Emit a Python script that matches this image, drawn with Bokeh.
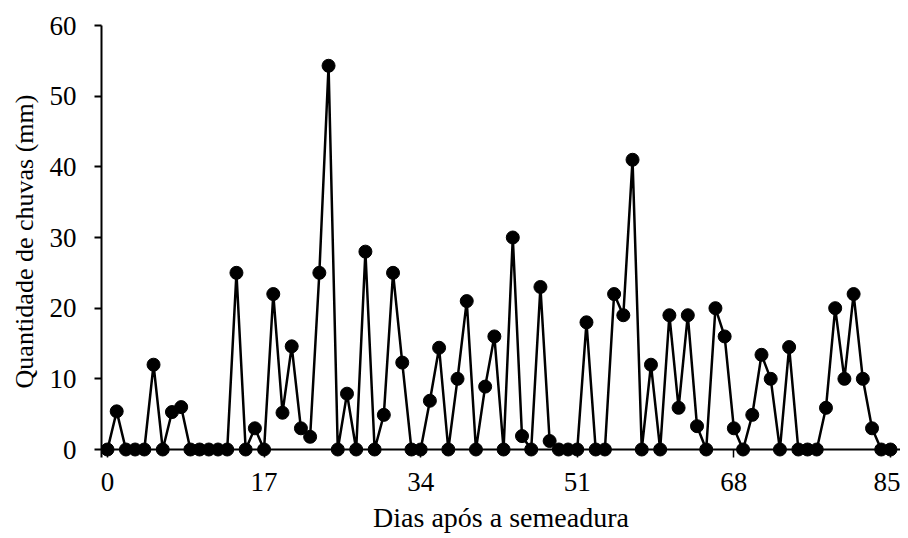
from bokeh.plotting import figure
from bokeh.models import Range1d, FixedTicker, Span
from bokeh.embed import file_html
from bokeh.resources import INLINE

dias = list(range(0, 86))
chuva = [0, 5.4, 0, 0, 0, 12, 0, 5.3, 6, 0,
         0, 0, 0, 0, 25, 0, 3, 0, 22, 5.2,
         14.6, 3, 1.8, 25, 54.3, 0, 7.9, 0, 28, 0,
         4.9, 25, 12.3, 0, 0, 6.9, 14.4, 0, 10, 21,
         0, 8.9, 16, 0, 30, 1.9, 0, 23, 1.2, 0,
         0, 0, 18, 0, 0, 22, 19, 41, 0, 12,
         0, 19, 5.9, 19, 3.3, 0, 20, 16, 3, 0,
         4.9, 13.4, 10, 0, 14.5, 0, 0, 0, 5.9, 20,
         10, 22, 10, 3, 0, 0]
x_ticks = [0, 17, 34, 51, 68, 85]
y_ticks = [0, 10, 20, 30, 40, 50, 60]

FONT = "Liberation Serif"

p = figure(width=900, height=538, output_backend="svg", toolbar_location=None,
           x_range=Range1d(-0.65, 86.09), y_range=Range1d(-1.132, 60),
           min_border_left=101, min_border_right=0, min_border_top=25, min_border_bottom=81)
p.outline_line_color = None
p.xgrid.visible = False
p.ygrid.visible = False
p.background_fill_color = "white"
p.border_fill_color = "white"

p.line(dias, chuva, line_color="black", line_width=2.5)
p.scatter(dias, chuva, size=13, fill_color="black", line_color="black")

p.add_layout(Span(location=0, dimension="width", line_color="black", line_width=2))

xa = p.xaxis[0]
xa.ticker = FixedTicker(ticks=x_ticks)
xa.axis_line_color = None
xa.major_tick_in = 8
xa.major_tick_out = 0
xa.major_tick_line_width = 1.5
xa.minor_tick_line_color = None
xa.major_label_standoff = 15
xa.major_label_text_font = FONT
xa.major_label_text_font_size = "27px"
xa.major_label_text_color = "black"
xa.axis_label = "Dias após a semeadura"
xa.axis_label_text_font = FONT
xa.axis_label_text_font_size = "28px"
xa.axis_label_text_font_style = "normal"
xa.axis_label_text_color = "black"
xa.axis_label_standoff = 8

ya = p.yaxis[0]
ya.ticker = FixedTicker(ticks=y_ticks)
ya.axis_line_color = "black"
ya.axis_line_width = 2
ya.major_tick_in = 0
ya.major_tick_out = 7
ya.major_tick_line_width = 2
ya.minor_tick_line_color = None
ya.major_label_standoff = 18
ya.major_label_text_font = FONT
ya.major_label_text_font_size = "27px"
ya.major_label_text_color = "black"
ya.axis_label = "Quantidade de chuvas (mm)"
ya.axis_label_text_font = FONT
ya.axis_label_text_font_size = "26px"
ya.axis_label_text_font_style = "normal"
ya.axis_label_text_color = "black"
ya.axis_label_standoff = 8

open("out.html", "w").write(file_html(p, INLINE))
